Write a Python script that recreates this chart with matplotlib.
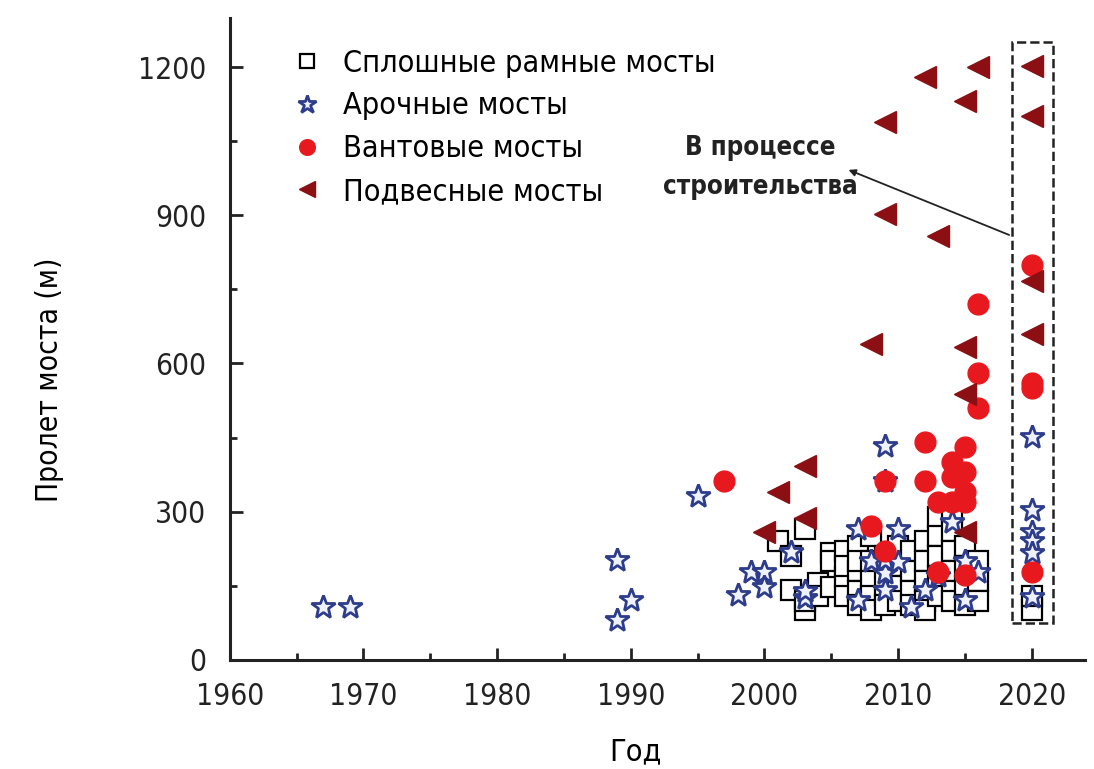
import numpy as np
import matplotlib.pyplot as plt
from matplotlib.patches import Rectangle
from matplotlib.ticker import MultipleLocator

plt.rcParams['font.family'] = ['DejaVu Sans']
plt.rcParams['font.stretch'] = 'condensed'

# solid frame bridges (squares)
frame_year = [2001, 2002, 2002, 2003, 2003, 2003, 2004, 2004, 2005, 2005, 2005,
              2006, 2006, 2006, 2006, 2007, 2007, 2007, 2007, 2007,
              2008, 2008, 2008, 2008, 2008, 2009, 2009, 2009, 2009,
              2010, 2010, 2010, 2010, 2011, 2011, 2011, 2011,
              2012, 2012, 2012, 2012, 2012, 2013, 2013, 2013, 2013, 2013,
              2014, 2014, 2014, 2014, 2014, 2014, 2015, 2015, 2015, 2015,
              2016, 2016, 2016, 2020, 2020]
frame_span = [240, 210, 142, 264, 101, 120, 156, 130, 217, 148, 200,
              168, 220, 130, 190, 230, 180, 140, 110, 200,
              250, 200, 160, 130, 100, 210, 170, 130, 110,
              230, 190, 150, 120, 220, 180, 140, 110,
              240, 200, 160, 120, 100, 290, 250, 210, 170, 130,
              300, 260, 220, 180, 140, 120, 230, 190, 150, 110,
              200, 160, 120, 100, 130]

# arch bridges (stars)
arch_year = [1967, 1969, 1989, 1989, 1990, 1995, 1998, 1999, 2000, 2000, 2002,
             2003, 2003, 2007, 2007, 2008, 2009, 2009, 2009, 2009, 2009,
             2010, 2010, 2011, 2012, 2013, 2014, 2015, 2015, 2016,
             2020, 2020, 2020, 2020, 2020, 2020]
arch_span = [107, 107, 203, 81, 122, 331, 132, 178, 178, 148, 219,
             126, 140, 264, 122, 200, 432, 361, 176, 142, 203,
             264, 197, 107, 142, 170, 280, 122, 200, 178,
             452, 304, 258, 240, 217, 128]

# cable-stayed bridges (circles)
cable_year = [1997, 2008, 2009, 2009, 2012, 2012, 2013, 2013, 2014, 2014, 2014,
              2015, 2015, 2015, 2015, 2015, 2016, 2016, 2016,
              2020, 2020, 2020, 2020]
cable_span = [361, 270, 220, 361, 440, 361, 320, 178, 320, 370, 400,
              320, 340, 380, 430, 172, 720, 580, 510,
              800, 560, 550, 178]

# suspension bridges (triangles)
susp_year = [2000, 2001, 2003, 2003, 2008, 2009, 2009, 2012, 2013, 2015, 2016,
             2015, 2015, 2015, 2020, 2020, 2020, 2020]
susp_span = [258, 340, 392, 288, 639, 1089, 903, 1180, 858, 1132, 1200,
             633, 538, 258, 1203, 1101, 767, 659]

labels = ['Сплошные рамные мосты', 'Арочные мосты', 'Вантовые мосты', 'Подвесные мосты']

fig = plt.figure(figsize=(10.94, 7.69), dpi=100)
ax = fig.add_axes([0.21, 0.142, 0.782, 0.835])

ax.plot(frame_year, frame_span, 's', ms=14, mfc='white', mec='black', mew=1.6,
        ls='none', label=labels[0])
ax.plot(arch_year, arch_span, '*', ms=18, mfc='#eef2ff', mec='#2e3c8c', mew=2.0,
        ls='none', label=labels[1])
ax.plot(cable_year, cable_span, 'o', ms=15, color='#e8191e', ls='none', label=labels[2])
ax.plot(susp_year, susp_span, '<', ms=16, color='#8c0f14', ls='none', label=labels[3])

# "under construction" box and arrow
ax.add_patch(Rectangle((2018.5, 75), 3.1, 1175, fill=False, ls='--', lw=1.8,
                       ec='#222222'))
ax.annotate('', xy=(2006.1, 994), xytext=(2018.5, 858),
            arrowprops=dict(arrowstyle='-|>', color='#222222', lw=1.3))
ax.text(1999.7, 996, 'В процессе\nстроительства', ha='center', va='center',
        fontsize=18.5, fontweight='bold', linespacing=1.65, color='#222222')

ax.set_xlim(1960, 2024)
ax.set_ylim(0, 1300)
ax.xaxis.set_major_locator(MultipleLocator(10))
ax.xaxis.set_minor_locator(MultipleLocator(5))
ax.yaxis.set_major_locator(MultipleLocator(300))
ax.yaxis.set_minor_locator(MultipleLocator(150))
ax.tick_params(which='both', direction='in', width=2, labelsize=21.5, colors='#222222')
ax.tick_params(which='major', length=9)
ax.tick_params(which='minor', length=5)
ax.tick_params(axis='x', pad=16)
ax.tick_params(axis='y', pad=17)
for s in ['top', 'right']:
    ax.spines[s].set_visible(False)
for s in ['left', 'bottom']:
    ax.spines[s].set_linewidth(2.2)
    ax.spines[s].set_color('#222222')

ax.set_xlabel('Год', fontsize=22)
ax.set_ylabel('Пролет моста (м)', fontsize=21.5)
ax.xaxis.set_label_coords(0.474, -0.12)
ax.yaxis.set_label_coords(-0.194, 0.436)

ax.legend(loc='upper left', bbox_to_anchor=(0.048, 0.985), frameon=False, fontsize=22,
          handletextpad=0.65, labelspacing=0.45, borderaxespad=0.3, handlelength=1.0,
          markerscale=0.75)

fig.savefig('out.png', dpi=100)
